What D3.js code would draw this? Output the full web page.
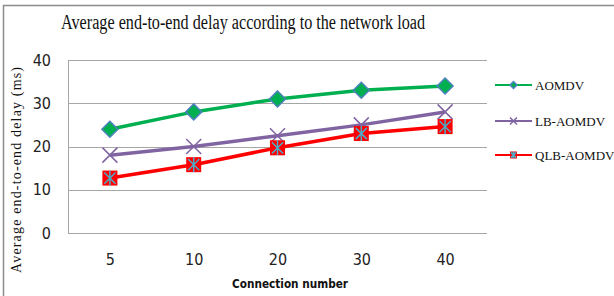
<!DOCTYPE html>
<html>
<head>
<meta charset="utf-8">
<script src="https://cdn.jsdelivr.net/npm/d3@7"></script>
<style>
  body { margin: 0; background: #fff; }
  svg { display: block; }
  .tick text { font-family: "DejaVu Sans Condensed", "Liberation Sans Narrow", sans-serif; font-size: 16px; fill: #222; }
</style>
</head>
<body>
<svg width="614" height="296"></svg>
<script>
// chart data
var categories = ["5", "10", "20", "30", "40"];
var aomdv = [24, 28, 31, 33, 34];
var lbAomdv = [18, 20, 22.5, 25, 28];
var qlbAomdv = [12.7, 15.8, 19.7, 23, 24.6];
var yTicks = [0, 10, 20, 30, 40];

var margin = {top: 60, left: 68, right: 127, bottom: 63};
var W = 614, H = 296;
var w = W - margin.left - margin.right;
var h = H - margin.top - margin.bottom;

var svg = d3.select("svg");

// outer frame
svg.append("rect")
    .attr("x", 3.5).attr("y", 5.5)
    .attr("width", 640).attr("height", 320)
    .attr("fill", "none").attr("stroke", "#8c8c8c").attr("stroke-width", 1.5);

var g = svg.append("g")
    .attr("transform", "translate(" + margin.left + "," + margin.top + ")");

var x = d3.scalePoint().domain(categories).range([0, w]).padding(0.5);
var y = d3.scaleLinear().domain([0, 40]).range([h, 0]);

// gridlines
g.selectAll(".grid")
    .data(yTicks)
    .enter().append("line")
    .attr("x1", 0).attr("x2", w)
    .attr("y1", function(d) { return Math.round(y(d)) + 0.5; })
    .attr("y2", function(d) { return Math.round(y(d)) + 0.5; })
    .attr("stroke", "#a6a6a6").attr("stroke-width", 1);

g.append("line")
    .attr("x1", 0.5).attr("x2", 0.5).attr("y1", 0).attr("y2", h)
    .attr("stroke", "#a6a6a6");

// axes (labels only)
var yAxis = g.append("g")
    .call(d3.axisLeft(y).tickValues(yTicks).tickSize(0).tickPadding(17));
yAxis.select(".domain").remove();

var xAxis = g.append("g")
    .attr("transform", "translate(0," + h + ")")
    .call(d3.axisBottom(x).tickSize(0).tickPadding(21));
xAxis.select(".domain").remove();

var line = d3.line()
    .x(function(d, i) { return x(categories[i]); })
    .y(function(d) { return y(d); });

var series = [
    {name: "AOMDV", values: aomdv, color: "#00b050", marker: "diamond"},
    {name: "LB-AOMDV", values: lbAomdv, color: "#8064a2", marker: "x"},
    {name: "QLB-AOMDV", values: qlbAomdv, color: "#ff0000", marker: "square"}
];

function drawMarker(sel, type, color, s) {
    if (type === "diamond") {
        sel.append("path")
            .attr("d", "M0," + (-s) + "L" + s + ",0L0," + s + "L" + (-s) + ",0Z")
            .attr("fill", color).attr("stroke", "#4f81bd").attr("stroke-width", 1.5);
    } else if (type === "x") {
        sel.append("path")
            .attr("d", "M" + (-s) + "," + (-s) + "L" + s + "," + s + "M" + (-s) + "," + s + "L" + s + "," + (-s))
            .attr("stroke", color).attr("stroke-width", 1.5).attr("fill", "none");
    } else {
        sel.append("rect")
            .attr("x", -s).attr("y", -s).attr("width", 2 * s).attr("height", 2 * s)
            .attr("fill", color);
        var k = s * 0.75;
        sel.append("path")
            .attr("d", "M" + (-k) + "," + (-k) + "L" + k + "," + k + "M" + (-k) + "," + k + "L" + k + "," + (-k) +
                "M0," + (-s) + "L0," + s)
            .attr("stroke", "#4bacc6").attr("stroke-width", 1.5);
    }
}

var markerSize = {diamond: 8, x: 7.5, square: 7.5};

series.forEach(function(s) {
    g.append("path")
        .datum(s.values)
        .attr("d", line)
        .attr("fill", "none")
        .attr("stroke", s.color)
        .attr("stroke-width", 3.5);

    g.selectAll(".pt-" + s.marker)
        .data(s.values)
        .enter().append("g")
        .attr("transform", function(d, i) { return "translate(" + x(categories[i]) + "," + y(d) + ")"; })
        .each(function() { drawMarker(d3.select(this), s.marker, s.color, markerSize[s.marker]); });
});

// legend
var legend = svg.append("g").attr("transform", "translate(495,0)");
var legendY = [85, 121, 155];
series.forEach(function(s, i) {
    var lg = legend.append("g").attr("transform", "translate(0," + legendY[i] + ")");
    lg.append("line").attr("x1", 0).attr("x2", 37).attr("y1", 0).attr("y2", 0)
        .attr("stroke", s.color).attr("stroke-width", 2);
    var mg = lg.append("g").attr("transform", "translate(18.5,0)");
    drawMarker(mg, s.marker, s.color, 3.5);
    lg.append("text")
        .attr("x", 40).attr("y", 4.5)
        .attr("font-family", "Liberation Serif, serif")
        .attr("font-size", 13)
        .attr("fill", "#111")
        .text(s.name);
});

// title
svg.append("text")
    .attr("x", 61).attr("y", 29)
    .attr("font-family", "Liberation Serif, serif")
    .attr("font-size", 20)
    .attr("textLength", 364)
    .attr("lengthAdjust", "spacingAndGlyphs")
    .attr("fill", "#111")
    .text("Average end-to-end delay according to the network load");

// axis titles
svg.append("text")
    .attr("transform", "translate(21,170) rotate(-90)")
    .attr("text-anchor", "middle")
    .attr("font-family", "Liberation Serif, serif")
    .attr("font-size", 14)
    .attr("textLength", 206)
    .attr("lengthAdjust", "spacing")
    .attr("fill", "#111")
    .text("Average end-to-end delay (ms)");

svg.append("text")
    .attr("x", 290).attr("y", 288)
    .attr("text-anchor", "middle")
    .attr("font-family", "DejaVu Sans Condensed, sans-serif")
    .attr("font-size", 12)
    .attr("font-weight", "bold")
    .attr("textLength", 116)
    .attr("lengthAdjust", "spacingAndGlyphs")
    .attr("fill", "#111")
    .text("Connection number");
</script>
</body>
</html>
